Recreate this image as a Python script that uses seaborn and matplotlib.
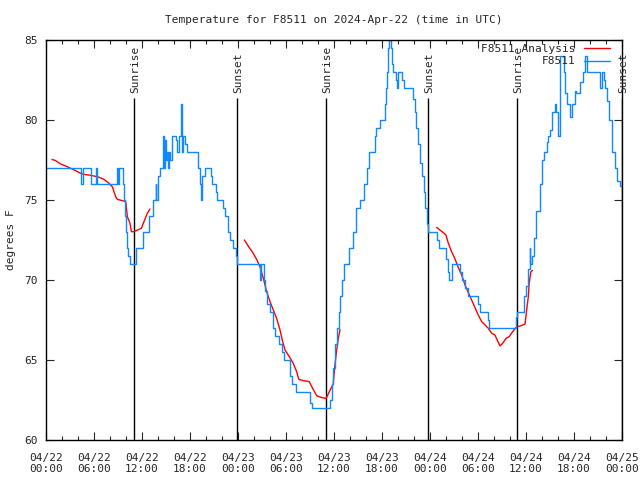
import numpy as np
import pandas as pd
import matplotlib
matplotlib.use("Agg")
import matplotlib.pyplot as plt
from matplotlib.lines import Line2D
from matplotlib.ticker import MultipleLocator
import seaborn as sns

# station observations (hours after 04/22 00:00 UTC, deg F), drawn as steps
obs_hours = [0.0, 4.35, 4.6, 5.6, 6.2, 6.4, 8.83, 9.0, 9.1, 9.6, 9.8, 9.9, 10.0, 10.1, 10.3, 10.5,
             11.3, 12.1, 12.9, 13.35, 13.7, 13.8, 14.0, 14.3, 14.67, 14.8, 14.9, 15.0, 15.1, 15.3, 15.4,
             15.5, 15.7, 16.25, 16.4, 16.67, 16.83, 17.0, 17.17, 17.4, 17.6, 19.0, 19.25, 19.4, 19.5,
             19.9, 20.6, 20.8, 21.25, 21.4, 22.1, 22.4, 22.7, 23.0, 23.4, 23.75, 23.9,
             26.7, 26.85, 27.2, 27.35, 27.65, 28.0, 28.4, 28.6, 29.1, 29.5, 29.7, 30.5, 30.7, 31.25,
             33.0, 33.2, 35.5, 35.7, 35.9, 36.1, 36.4, 36.6, 36.8, 37.0, 37.3, 37.9, 38.4, 38.8, 39.2,
             39.7, 40.1, 40.4, 41.1, 41.3, 41.7, 42.4, 42.5, 42.6, 42.75, 42.9, 43.1, 43.2, 43.4, 43.75,
             43.9, 44.0, 44.5, 44.7, 45.9, 46.1, 46.3, 46.5, 46.75, 46.96, 47.2, 47.4, 47.6, 47.8,
             48.9, 49.1, 50.0, 50.2, 50.4, 50.7, 51.8, 52.0, 52.4, 52.7, 54.0, 54.2, 55.3, 55.4,
             58.75, 58.9, 59.75, 60.0, 60.3, 60.45, 60.55, 60.7, 61.0, 61.3, 61.75, 61.95, 62.2, 62.6,
             62.8, 63.0, 63.3, 63.6, 63.8, 64.0, 64.25, 64.7, 64.9, 65.15, 65.5, 65.7, 66.1, 66.3,
             66.75, 67.1, 67.4, 67.6, 69.25, 69.5, 69.7, 69.9, 70.15, 70.4, 70.7, 71.1, 71.4, 71.7, 72.0]
obs_temps = [77, 76, 77, 76, 77, 76, 77, 76, 77, 76, 75, 74, 73, 72, 71.5, 71,
             72, 73, 74, 75, 76, 75, 76.5, 77, 79, 77, 78.75, 77.5, 78, 77, 78,
             77.5, 79, 78.75, 78, 79, 81, 78, 79, 78.5, 78, 77, 76, 75, 76.5,
             77, 76.5, 76, 75.5, 75, 74.5, 74, 73, 72.5, 72, 71.5, 71,
             70, 71, 70, 69.3, 68.5, 68, 67, 66.5, 66, 65.5, 65, 64, 63.5, 63,
             62.3, 62, 62.5, 63.5, 64.5, 66, 67, 68, 69, 70, 71, 72, 73, 74.5, 75,
             76, 77, 78, 79, 79.5, 80, 81, 82, 83, 84.5, 85, 84.5, 83.5, 83, 82.5,
             82, 83, 82.5, 82, 81.3, 80.5, 79.5, 78.5, 77.3, 76.5, 75.5, 74.5, 73.5, 73,
             72.5, 72, 71.3, 70.5, 70, 71, 70.5, 70, 69.5, 69, 68.5, 68, 67.5, 67,
             67.7, 68, 69, 69.6, 70.7, 72, 71, 71.5, 72.6, 74.3, 76, 77.5, 78, 78.6,
             79, 79.4, 80.5, 81, 80.5, 79, 84, 83, 81.7, 81, 80.2, 81, 81.8, 81.7,
             82.4, 83, 84, 83, 82, 83, 82.5, 82, 81.2, 80, 78, 77, 76.2, 75.9, 75.9]

# analysis runs (three separate segments)
ana1_hours = [0.75, 1.2, 1.83, 2.46, 3.08, 3.71, 4.33, 4.75, 5.38, 6.0, 6.63, 7.25, 7.88, 8.29,
              8.71, 8.92, 9.54, 9.96, 10.17, 10.5, 10.67, 11.0, 11.42, 11.92, 12.25, 12.67, 13.0]
ana1_temps = [77.54, 77.46, 77.25, 77.12, 76.98, 76.83, 76.67, 76.6, 76.56, 76.5, 76.42, 76.29,
              76.04, 75.83, 75.2, 75.04, 74.96, 74.9, 73.96, 73.54, 73.02, 73.02, 73.12, 73.23,
              73.65, 74.17, 74.44]
ana2_hours = [24.8, 25.3, 25.83, 26.33, 26.75, 27.17, 27.58, 28.0, 28.42, 28.83, 29.25, 29.58,
              29.88, 30.3, 30.9, 31.33, 31.6, 32.17, 32.9, 33.33, 33.83, 34.46, 35.0, 35.4, 35.9,
              36.1, 36.33, 36.54, 36.75]
ana2_temps = [72.5, 72.1, 71.73, 71.29, 70.83, 70.1, 69.27, 68.65, 68.12, 67.6, 66.88, 66.15,
              65.62, 65.3, 64.8, 64.27, 63.79, 63.71, 63.65, 63.23, 62.77, 62.65, 62.6, 63.0, 63.5,
              64.6, 65.6, 66.35, 66.9]
ana3_hours = [48.83, 49.25, 49.67, 50.0, 50.29, 50.7, 51.1, 51.5, 51.96, 52.38, 52.8, 53.2, 53.6,
              54.04, 54.46, 54.88, 55.29, 55.7, 56.12, 56.4, 56.75, 57.08, 57.5, 57.9, 58.33, 58.83,
              59.25, 59.88, 60.08, 60.29, 60.4, 60.6, 60.8]
ana3_temps = [73.29, 73.12, 72.96, 72.8, 72.3, 71.77, 71.35, 70.83, 70.31, 69.69, 69.2, 68.75, 68.3,
              67.8, 67.4, 67.19, 66.98, 66.67, 66.56, 66.25, 65.88, 66.04, 66.35, 66.46, 66.77, 67.08,
              67.12, 67.25, 68.12, 68.96, 69.8, 70.5, 70.6]

sun_labels = ["Sunrise", "Sunset", "Sunrise", "Sunset", "Sunrise", "Sunset"]
sun_hours = [11.0, 23.9, 35.0, 47.75, 58.9, 72.0]

tick_hours = [0, 6, 12, 18, 24, 30, 36, 42, 48, 54, 60, 66, 72]
tick_labels = ["04/22\n00:00", "04/22\n06:00", "04/22\n12:00", "04/22\n18:00",
               "04/23\n00:00", "04/23\n06:00", "04/23\n12:00", "04/23\n18:00",
               "04/24\n00:00", "04/24\n06:00", "04/24\n12:00", "04/24\n18:00",
               "04/25\n00:00"]

BLUE = "#1188ff"
RED = "#ff0000"

sns.set_style("ticks")
plt.rcParams["font.family"] = ["DejaVu Sans Mono", "DejaVu Sans"]
plt.rcParams["font.size"] = 8

ana = pd.DataFrame({
    "hour": ana1_hours + ana2_hours + ana3_hours,
    "temp": ana1_temps + ana2_temps + ana3_temps,
    "seg": [1] * len(ana1_hours) + [2] * len(ana2_hours) + [3] * len(ana3_hours),
})
obs = pd.DataFrame({"hour": obs_hours, "temp": obs_temps})

fig = plt.figure(figsize=(6.4, 4.8), dpi=100)
ax = fig.add_axes([46 / 640, 40 / 480, 576 / 640, 400 / 480])

sns.lineplot(data=ana, x="hour", y="temp", units="seg", estimator=None, color=RED,
             lw=1.0, ax=ax, sort=False)
sns.lineplot(data=obs, x="hour", y="temp", estimator=None, color=BLUE, lw=1.0,
             drawstyle="steps-post", ax=ax, sort=False)

for lab, h in zip(sun_labels, sun_hours):
    ax.vlines(h, 60, 81.4, color="black", lw=1.0, zorder=1)
    ax.text(h + 0.15, 81.7, lab, rotation=90, ha="center", va="bottom", fontsize=8)

ax.set_xlim(0, 72)
ax.set_ylim(60, 85)
ax.set_xticks(tick_hours)
ax.set_xticklabels(tick_labels)
ax.xaxis.set_minor_locator(MultipleLocator(2))
ax.yaxis.set_major_locator(MultipleLocator(5))
ax.tick_params(which="both", direction="in", top=True, right=True, width=0.8)
ax.tick_params(which="major", length=6, pad=6)
ax.tick_params(axis="x", which="major", pad=9)
ax.tick_params(which="minor", length=3)
for s in ax.spines.values():
    s.set_linewidth(1.0)
    s.set_color("black")

ax.set_xlabel("")
ax.set_ylabel("degrees F")
ax.yaxis.set_label_coords(-0.052, 0.5)
ax.set_title("Temperature for F8511 on 2024-Apr-22 (time in UTC)", fontsize=8, pad=12)

handles = [Line2D([], [], color=RED, lw=1.0), Line2D([], [], color=BLUE, lw=1.0)]
ax.legend(handles, ["F8511 Analysis", "F8511"], loc="upper right", frameon=False,
          markerfirst=False, handlelength=2.4, fontsize=8, borderaxespad=0.75,
          borderpad=0.3, labelspacing=0.25, handletextpad=0.7,
          bbox_to_anchor=(1.0, 1.02))

fig.savefig("out.png", dpi=100)
